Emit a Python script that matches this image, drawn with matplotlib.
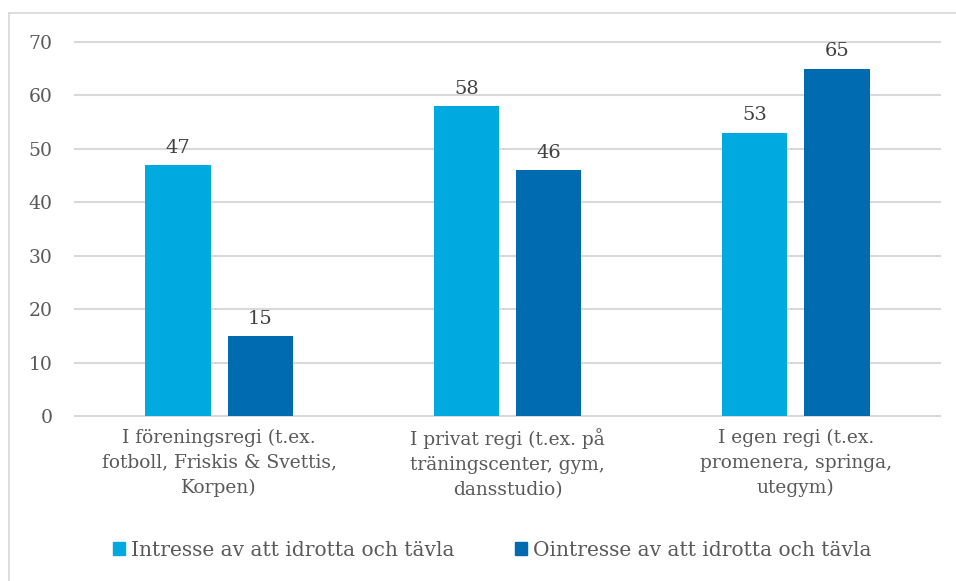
import matplotlib.pyplot as plt
import numpy as np
from matplotlib.lines import Line2D
from matplotlib.patches import Patch

categories = ["I föreningsregi (t.ex.\nfotboll, Friskis & Svettis,\nKorpen)",
              "I privat regi (t.ex. på\nträningscenter, gym,\ndansstudio)",
              "I egen regi (t.ex.\npromenera, springa,\nutegym)"]
series_names = ["Intresse av att idrotta och tävla",
                "Ointresse av att idrotta och tävla"]
intresse = [47, 58, 53]
ointresse = [15, 46, 65]
yticks = [0, 10, 20, 30, 40, 50, 60, 70]

light = "#00A9E0"
dark = "#006BB1"
text_col = "#595959"
grid_col = "#D9D9D9"

plt.rcParams["font.family"] = ["DejaVu Serif"]

fig = plt.figure(figsize=(9.56, 5.81), dpi=100)
ax = fig.add_axes([75 / 956, 1 - 416 / 581, 865 / 956, 374 / 581])

x = np.arange(len(categories))
w = 0.226
gap = 0.059
off = (w + gap) / 2
b1 = ax.bar(x - off, intresse, w, color=light, zorder=3)
b2 = ax.bar(x + off, ointresse, w, color=dark, zorder=3)

for bars in (b1, b2):
    for r in bars:
        ax.annotate(str(int(r.get_height())),
                    (r.get_x() + r.get_width() / 2, r.get_height()),
                    xytext=(0, 6), textcoords="offset points",
                    ha="center", va="bottom", fontsize=14, color="#404040")

ax.set_xlim(-0.5, 2.5)
ax.set_ylim(0, 70)
ax.set_yticks(yticks)
ax.set_yticklabels([str(t) for t in yticks], fontsize=13.5, color=text_col)
ax.set_xticks(x)
ax.set_xticklabels(categories, fontsize=13.4, color=text_col, linespacing=1.5)
ax.tick_params(axis="both", length=0)
ax.tick_params(axis="y", pad=16)
ax.tick_params(axis="x", pad=9)
ax.grid(axis="y", color=grid_col, linewidth=1.5, zorder=0)
for gl in ax.get_ygridlines():
    gl.set_clip_on(False)
for s in ax.spines.values():
    s.set_visible(False)

handles = [Patch(color=light), Patch(color=dark)]
fig.legend(handles, series_names, loc="center", bbox_to_anchor=(0.515, 1 - 550 / 581),
           ncol=2, frameon=False, fontsize=14.5, labelcolor=text_col,
           handlelength=0.6, handleheight=0.6, handletextpad=0.3, columnspacing=3.0)

# outer chart frame (only left and top edges visible)
fig.add_artist(Line2D([8.5 / 956, 8.5 / 956], [0, 1 - 13 / 581], transform=fig.transFigure,
                      color=grid_col, linewidth=1.3))
fig.add_artist(Line2D([8.5 / 956, 1.0], [1 - 13 / 581, 1 - 13 / 581], transform=fig.transFigure,
                      color=grid_col, linewidth=1.3))

fig.savefig("out.png", dpi=100)
